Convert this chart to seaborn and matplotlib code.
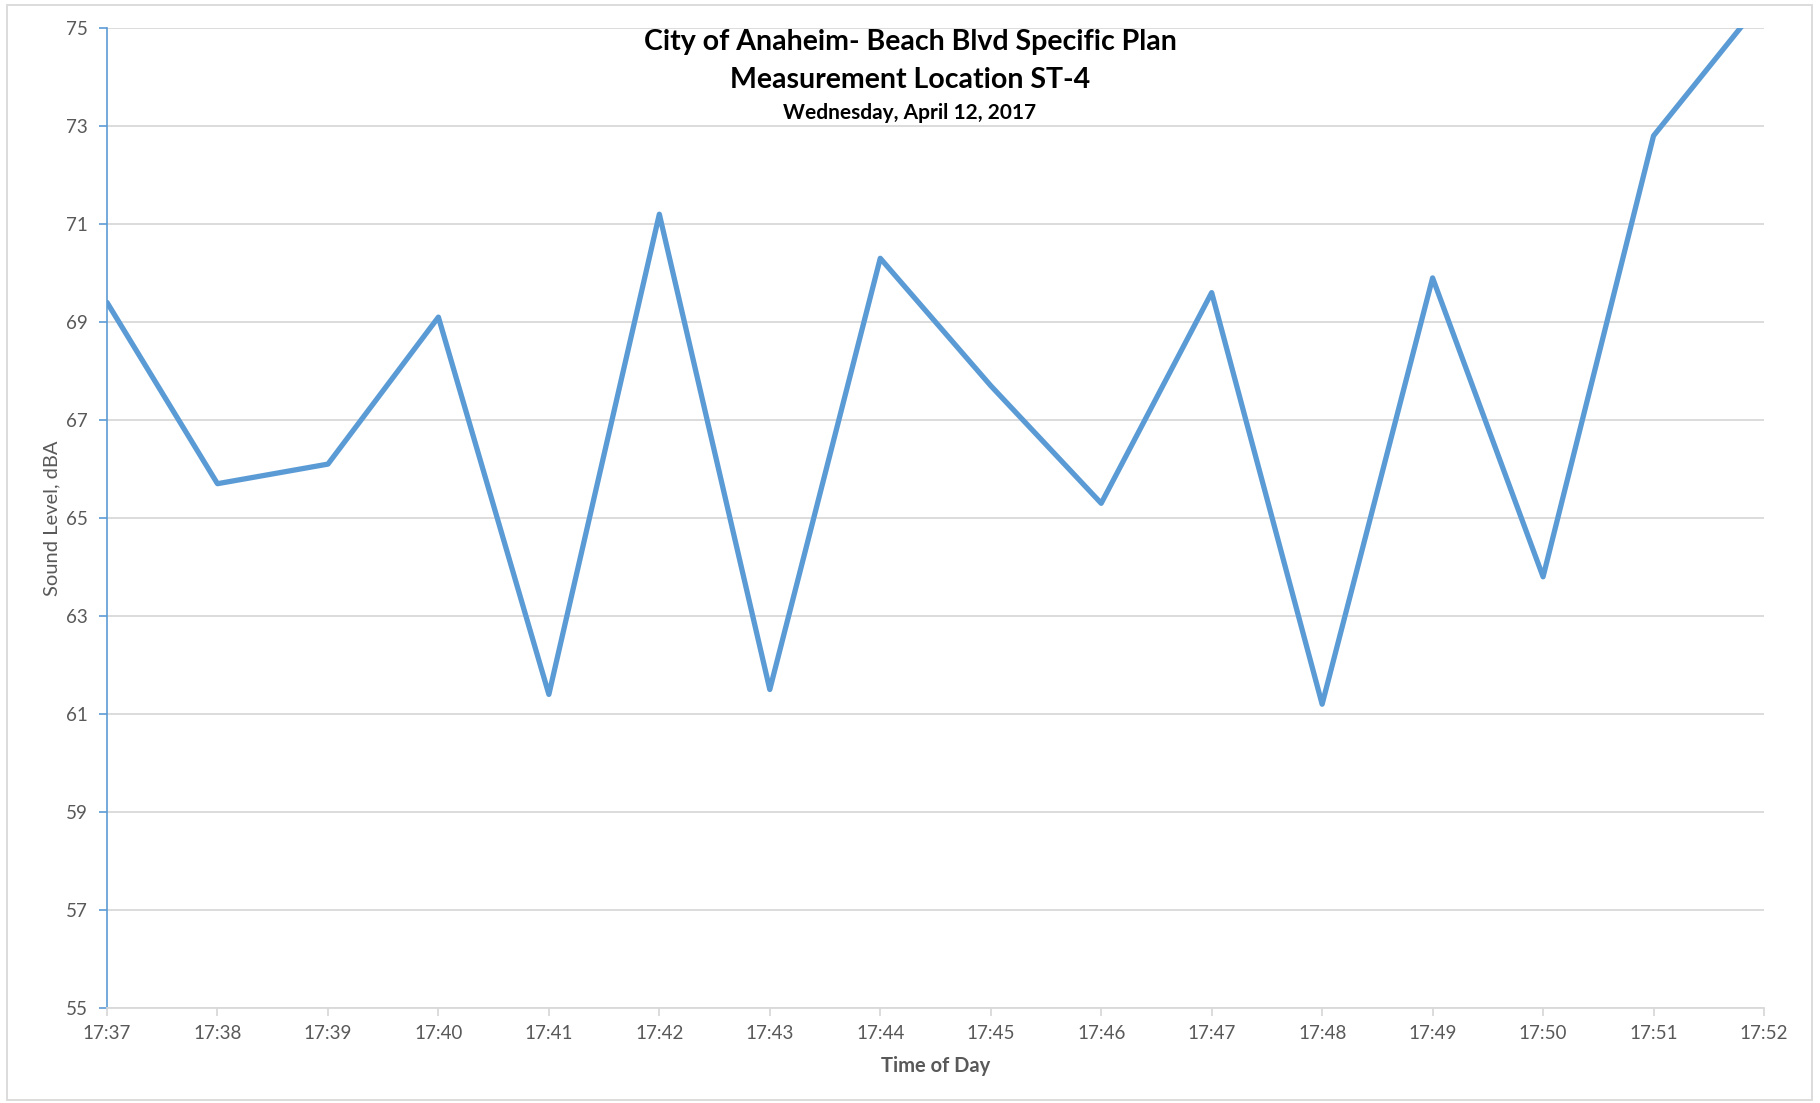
import matplotlib
matplotlib.use("Agg")
import matplotlib.pyplot as plt
from matplotlib.patches import Rectangle
import seaborn as sns
import pandas as pd

# Sound level readings, one per minute
times = ["17:37", "17:38", "17:39", "17:40", "17:41", "17:42", "17:43", "17:44",
         "17:45", "17:46", "17:47", "17:48", "17:49", "17:50", "17:51", "17:52"]
levels = [69.4, 65.7, 66.1, 69.1, 61.4, 71.2, 61.5, 70.3,
          67.7, 65.3, 69.6, 61.2, 69.9, 63.8, 72.8, 75.6]
y_ticks = [55, 57, 59, 61, 63, 65, 67, 69, 71, 73, 75]

title_main = "City of Anaheim- Beach Blvd Specific Plan"
title_loc = "Measurement Location ST-4"
title_date = "Wednesday, April 12, 2017"

df = pd.DataFrame({"minute": range(len(times)), "time": times, "level": levels})

sns.set_theme(style="white")
plt.rcParams["font.family"] = ["Lato", "DejaVu Sans"]

BLUE = "#5B9BD5"
GRID = "#D9D9D9"
TEXT = "#595959"

fig = plt.figure(figsize=(18.2, 11.03), dpi=100)
ax = fig.add_axes([107 / 1820, 1 - 1008 / 1103, (1764 - 107) / 1820, (1008 - 28) / 1103])

sns.lineplot(data=df, x="minute", y="level", ax=ax, color=BLUE, linewidth=3.8,
             solid_joinstyle="round", solid_capstyle="round")

ax.set_xlim(0, len(times) - 1)
ax.set_ylim(55, 75)
ax.set_xticks(df["minute"])
ax.set_xticklabels(times)
ax.set_yticks(y_ticks)
ax.set_yticklabels([str(v) for v in y_ticks])

ax.grid(axis="y", color=GRID, linewidth=1.3)
ax.grid(axis="x", visible=False)
ax.set_axisbelow(True)

for side in ["top", "right"]:
    ax.spines[side].set_visible(False)
ax.spines["left"].set_color(BLUE)
ax.spines["left"].set_linewidth(1.2)
ax.spines["bottom"].set_color(GRID)
ax.spines["bottom"].set_linewidth(1.3)

ax.tick_params(axis="y", length=6, width=1.2, color=BLUE, labelsize=13.5,
               labelcolor=TEXT, pad=8, left=True)
ax.tick_params(axis="x", length=6, width=1.3, color=GRID, labelsize=13.5,
               labelcolor=TEXT, pad=6, bottom=True)

ax.set_xlabel("Time of Day", fontsize=14.5, fontweight="bold", color=TEXT, labelpad=10)
ax.set_ylabel("Sound Level, dBA", fontsize=14.5, color=TEXT, labelpad=4)

fig.text(0.5, 1 - 42 / 1103, title_main, ha="center", va="center",
         fontsize=20.5, fontweight="bold", color="black")
fig.text(0.5, 1 - 80 / 1103, title_loc, ha="center", va="center",
         fontsize=20.5, fontweight="bold", color="black")
fig.text(0.5, 1 - 113 / 1103, title_date, ha="center", va="center",
         fontsize=15, fontweight="bold", color="black")

# Light frame around the chart area
fig.patches.append(Rectangle((7 / 1820, 3 / 1103), (1812 - 7) / 1820, (1099 - 4) / 1103,
                             transform=fig.transFigure, fill=False,
                             edgecolor=GRID, linewidth=1.3))

fig.savefig("out.png", dpi=100, facecolor="white")
